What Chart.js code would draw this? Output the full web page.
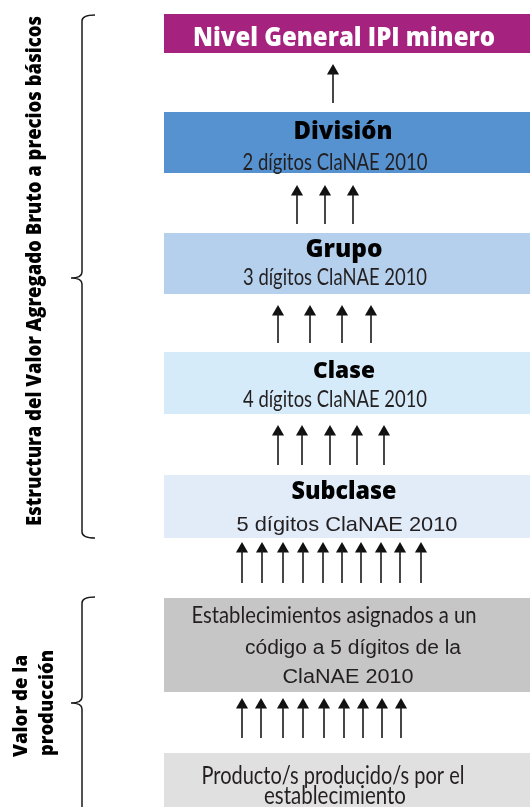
<!DOCTYPE html>
<html>
<head>
<meta charset="utf-8">
<script src="https://cdn.jsdelivr.net/npm/chart.js@4.4.0/dist/chart.umd.min.js"></script>
<style>
  html, body { margin: 0; padding: 0; background: #fff; }
  #contenedor { width: 530px; height: 807px; }
</style>
</head>
<body>
<div id="contenedor"><canvas id="diagrama"></canvas></div>
<script>
// Niveles del diagrama (de arriba hacia abajo)
const etiquetasCaja = [
  ['Nivel General IPI minero'],
  ['División', '2 dígitos ClaNAE 2010'],
  ['Grupo', '3 dígitos ClaNAE 2010'],
  ['Clase', '4 dígitos ClaNAE 2010'],
  ['Subclase', '5 dígitos ClaNAE 2010'],
  ['Establecimientos asignados a un', 'código a 5 dígitos de la', 'ClaNAE 2010'],
  ['Producto/s producido/s por el', 'establecimiento']
];
const cajaArriba = [14, 112, 233, 352, 475, 598, 753];
const cajaAbajo  = [53, 173, 294, 414, 538, 692, 830];

// Flechas entre niveles: posiciones x, punta y base
const flechasX = [
  [333],
  [297, 325, 353],
  [278, 310, 342, 371],
  [278, 302, 330, 357, 384],
  [242, 262, 283, 303, 323, 342, 361, 381, 400, 421],
  [242, 261, 283, 303, 324, 344, 363, 382, 401]
];
const flechaPunta = [64, 185, 305, 425, 542, 698];
const flechaBase  = [103, 224, 343, 465, 583, 738];

// Llaves laterales
const etiquetasLlave = [
  ['Estructura del Valor Agregado Bruto a precios básicos'],
  ['Valor de la', 'producción']
];
const llaveArriba = [15, 597];
const llaveMedio  = [278, 703];
const llaveAbajo  = [538, 840];

// estilos
const coloresCaja = ['#a5237f', '#5592cf', '#b5d0ec', '#d6ebf9', '#e1ecf8', '#c6c6c6', '#e0e0e0'];
const CAJA_IZQ = 164, CAJA_DER = 530;
const RADIO_PUNTA = 7;
const NEGRITA = '800 %spx "Open Sans"';
const f = (base, px) => base.replace('%s', px);

// [centro x, linea base y, fuente, color, ancho]
const formatoTexto = [
  [[344, 46, f(NEGRITA, 27), '#ffffff', 302]],
  [[343, 139, f(NEGRITA, 25), '#000000', 99], [335, 170, '23px Lato', '#231f20', 185]],
  [[344, 257, f(NEGRITA, 24), '#000000', 77], [335, 285, '23px Lato', '#231f20', 184]],
  [[344, 378, f(NEGRITA, 23), '#000000', 62], [335, 407, '23px Lato', '#231f20', 184]],
  [[344, 499, f(NEGRITA, 25), '#000000', 105], [347, 531, '21px "Liberation Sans"', '#231f20', 221]],
  [[334, 623, '24px Lato', '#231f20', 285], [353, 654, '20px "Liberation Sans"', '#231f20', 216], [348, 683, '20px "Liberation Sans"', '#231f20', 131]],
  [[333, 784, '25px Lato', '#231f20', 263], [335, 804, '25px Lato', '#231f20', 142]]
];
// [x linea base, y inicio, fuente, largo]
const formatoLlave = [
  [[41, 526, f(NEGRITA, 21), 510]],
  [[27, 757, f(NEGRITA, 19), 102], [53, 756, f(NEGRITA, 19), 106]]
];

// Datos de las flechas
const astiles = [];
const puntas = [];
flechasX.forEach((grupo, i) => {
  grupo.forEach(x => {
    astiles.push({ x: x, y: flechaBase[i] });
    astiles.push({ x: x, y: flechaPunta[i] + RADIO_PUNTA });
    astiles.push({ x: x, y: null });
    puntas.push({ x: x, y: flechaPunta[i] + RADIO_PUNTA });
  });
});

function textoAjustado(ctx, txt, x, y, fuente, color, ancho, girar) {
  ctx.save();
  ctx.font = fuente;
  ctx.fillStyle = color;
  ctx.textBaseline = 'alphabetic';
  ctx.textAlign = girar ? 'left' : 'center';
  const w = ctx.measureText(txt).width;
  ctx.translate(x, y);
  if (girar) ctx.rotate(-Math.PI / 2);
  ctx.scale(ancho / w, 1);
  ctx.fillText(txt, 0, 0);
  ctx.restore();
}

const cajasPlugin = {
  id: 'cajas',
  beforeDatasetsDraw(chart) {
    const ctx = chart.ctx, xs = chart.scales.x, ys = chart.scales.y;
    ctx.save();
    cajaArriba.forEach((arriba, i) => {
      const x0 = xs.getPixelForValue(CAJA_IZQ), x1 = xs.getPixelForValue(CAJA_DER);
      const y0 = ys.getPixelForValue(arriba), y1 = ys.getPixelForValue(cajaAbajo[i]);
      ctx.fillStyle = coloresCaja[i];
      ctx.fillRect(x0, y0, x1 - x0, y1 - y0);
    });
    ctx.restore();
  }
};

const textosPlugin = {
  id: 'textos',
  afterDatasetsDraw(chart) {
    const ctx = chart.ctx, xs = chart.scales.x, ys = chart.scales.y;
    // textos de las cajas
    etiquetasCaja.forEach((lineas, i) => {
      lineas.forEach((txt, j) => {
        const t = formatoTexto[i][j];
        textoAjustado(ctx, txt, xs.getPixelForValue(t[0]), ys.getPixelForValue(t[1]), t[2], t[3], t[4], false);
      });
    });
    // llaves
    ctx.save();
    ctx.strokeStyle = '#1a1a1a';
    ctx.lineWidth = 1.5;
    llaveArriba.forEach((arriba, i) => {
      const xl = xs.getPixelForValue(82), xb = xs.getPixelForValue(95), xp = xs.getPixelForValue(71);
      const a = ys.getPixelForValue(arriba), m = ys.getPixelForValue(llaveMedio[i]), b = ys.getPixelForValue(llaveAbajo[i]);
      ctx.beginPath();
      ctx.moveTo(xb, a);
      ctx.quadraticCurveTo(xl, a, xl, a + 6);
      ctx.lineTo(xl, m - 6);
      ctx.quadraticCurveTo(xl, m, xp, m);
      ctx.quadraticCurveTo(xl, m, xl, m + 6);
      ctx.lineTo(xl, b - 6);
      ctx.quadraticCurveTo(xl, b, xb, b);
      ctx.stroke();
    });
    ctx.restore();
    etiquetasLlave.forEach((lineas, i) => {
      lineas.forEach((txt, j) => {
        const t = formatoLlave[i][j];
        textoAjustado(ctx, txt, xs.getPixelForValue(t[0]), ys.getPixelForValue(t[1]), t[2], '#000000', t[3], true);
      });
    });
  }
};

new Chart(document.getElementById('diagrama'), {
  type: 'scatter',
  data: {
    datasets: [
      {
        label: 'astiles',
        data: astiles,
        showLine: true,
        spanGaps: false,
        borderColor: '#1a1a1a',
        borderWidth: 1.6,
        pointRadius: 0,
        pointHoverRadius: 0
      },
      {
        label: 'puntas',
        data: puntas,
        pointStyle: 'triangle',
        pointRadius: RADIO_PUNTA,
        pointHoverRadius: RADIO_PUNTA,
        backgroundColor: '#111111',
        borderColor: '#111111',
        borderWidth: 0
      }
    ]
  },
  options: {
    responsive: true,
    maintainAspectRatio: false,
    animation: false,
    events: [],
    layout: { padding: 0, autoPadding: false },
    plugins: {
      legend: { display: false },
      tooltip: { enabled: false }
    },
    scales: {
      x: { type: 'linear', min: 0, max: 530, display: false },
      y: { type: 'linear', min: 0, max: 807, reverse: true, display: false }
    }
  },
  plugins: [cajasPlugin, textosPlugin]
});
</script>
</body>
</html>
